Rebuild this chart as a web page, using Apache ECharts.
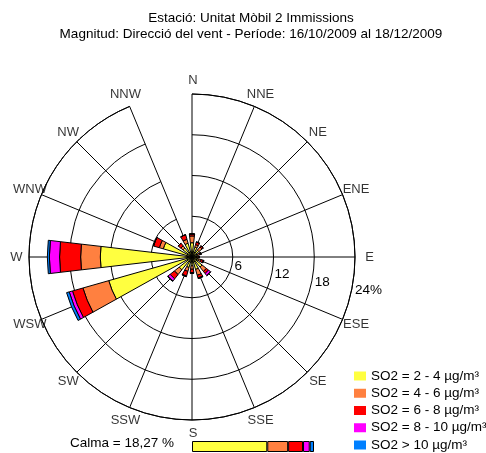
<!DOCTYPE html>
<html><head><meta charset="utf-8">
<script src="https://cdn.jsdelivr.net/npm/echarts@6/dist/echarts.min.js"></script>
<style>html,body{margin:0;padding:0;background:#fff}#c{width:486px;height:453px}</style>
</head><body><div id="c"></div>
<script>
// ---- data ----
const titleLines = ['Estació: Unitat Mòbil 2 Immissions', 'Magnitud: Direcció del vent - Període: 16/10/2009 al 18/12/2009'];
const directions = ['N','NNE','NE','ENE','E','ESE','SE','SSE','S','SSW','SW','WSW','W','WNW','NW','NNW'];
const classNames = ['SO2 = 2 - 4 µg/m³','SO2 = 4 - 6 µg/m³','SO2 = 6 - 8 µg/m³','SO2 = 8 - 10 µg/m³','SO2 > 10 µg/m³'];
const classColors = ['#FFFF40','#FF8040','#FF0000','#FF00FF','#0080FF'];
// frequency (%) per direction for each SO2 class
const so2_2_4  = [2.1,1.5,1.3,0.9,0.8,1.0,1.9,1.9,1.3,1.6,2.4,12.75,13.5,4.4,1.7,2.1];
const so2_4_6  = [1.0,0.4,0.6,0.3,0.2,0.4,0.8,0.9,0.5,0.6,0.9,3.95,2.9,0.6,0.4,0.6];
const so2_6_8  = [0.3,0.4,0.2,0.2,0.1,0.3,0.4,0.4,0.5,0.7,0.8,1.6,3.1,0.9,0.5,0.7];
const so2_8_10 = [0,0,0,0,0,0.1,0.4,0.1,0.1,0.1,0.4,0.5,1.5,0,0,0];
const so2_gt10 = [0,0,0,0,0,0,0,0,0,0,0.1,0.4,0.3,0,0,0];
const radiusTicks = [0,6,12,18,24];
const calmaText = 'Calma = 18,27 %';
// overall share of each class (bottom bar)
const classTotals = [61.7,17.1,12.2,5.5,3.5];

// ---- chart ----
const FONT = 'Liberation Sans, Arial, sans-serif';
const FS = 13.5;
const classes = [so2_2_4, so2_4_6, so2_6_8, so2_8_10, so2_gt10];
const chart = echarts.init(document.getElementById('c'), null, {renderer:'canvas'});
const series = [];
classes.forEach((arr, i) => {
  series.push({
    type:'bar', name:classNames[i], coordinateSystem:'polar', polarIndex:0, stack:'rose',
    data:arr, barWidth:'59%', silent:true,
    itemStyle:{color:classColors[i], borderColor:'#000', borderWidth:1}
  });
});
classes.forEach((arr, i) => {
  series.push({
    type:'bar', name:classNames[i], xAxisIndex:0, yAxisIndex:0, stack:'tot',
    data:[classTotals[i]], barWidth:'100%', silent:true,
    itemStyle:{color:classColors[i], borderColor:'#000', borderWidth:1}
  });
});
// direction labels, centred on a ring just outside the rose
series.push({
  type:'scatter', name:'dirLabels', coordinateSystem:'polar', polarIndex:2,
  data:directions.map(d => [1, d]), symbolSize:0, silent:true,
  label:{show:true, position:'inside', formatter:p => p.value[1], color:'#000', fontSize:13, fontFamily:FONT}
});
const option = {
  animation:false,
  backgroundColor:'#fff',
  textStyle:{fontFamily:FONT},
  title:[
    {text:titleLines.join('\n'), left:251, top:10, textAlign:'center', padding:0,
     textStyle:{fontSize:FS, fontWeight:'normal', color:'#000', lineHeight:16, fontFamily:FONT}},
    {text:calmaText, left:70, top:436, padding:0,
     textStyle:{fontSize:FS, fontWeight:'normal', color:'#000', fontFamily:FONT}}
  ],
  legend:{
    data:classNames, orient:'vertical', left:354, top:369, padding:0,
    itemWidth:12, itemHeight:9, itemGap:3.25, icon:'rect',
    itemStyle:{borderWidth:0},
    textStyle:{fontSize:FS, color:'#000', fontFamily:FONT},
    selectedMode:false
  },
  polar:[
    {center:[192,257], radius:163},
    {center:[194.2,258], radius:164},
    {center:[193,257], radius:176.5}
  ],
  angleAxis:[
    {polarIndex:0, type:'category', data:directions, boundaryGap:false, startAngle:90, clockwise:true,
     axisLine:{show:true, lineStyle:{color:'#000', width:1}},
     axisTick:{show:false}, axisLabel:{show:false},
     splitLine:{show:true, lineStyle:{color:'#000', width:1}}},
    {polarIndex:1, type:'value', min:0, max:360, startAngle:-11.5,
     axisLine:{show:false}, axisTick:{show:false}, axisLabel:{show:false}, splitLine:{show:false}},
    {polarIndex:2, type:'category', data:directions, boundaryGap:false, startAngle:90, clockwise:true,
     axisLine:{show:false}, axisTick:{show:false}, axisLabel:{show:false}, splitLine:{show:false}}
  ],
  radiusAxis:[
    {polarIndex:0, type:'value', min:radiusTicks[0], max:radiusTicks[radiusTicks.length-1], interval:6,
     axisLine:{show:false}, axisTick:{show:false}, axisLabel:{show:false},
     splitLine:{show:true, lineStyle:{color:'#000', width:1}}},
    {polarIndex:1, type:'value', min:radiusTicks[0], max:radiusTicks[radiusTicks.length-1], interval:6,
     axisLine:{show:false}, axisTick:{show:false}, splitLine:{show:false},
     axisLabel:{show:true, margin:0, align:'left', verticalAlign:'middle', color:'#000', fontSize:FS, fontFamily:FONT,
       formatter:v => v === 0 ? '' : (v === 24 ? v + '%' : String(v))}},
    {polarIndex:2, type:'value', min:0, max:1,
     axisLine:{show:false}, axisTick:{show:false}, axisLabel:{show:false}, splitLine:{show:false}}
  ],
  grid:{left:192, top:441, width:122, height:11},
  xAxis:{type:'value', min:0, max:100, show:false},
  yAxis:{type:'category', data:['total'], show:false},
  series:series
};
chart.setOption(option);
</script></body></html>
